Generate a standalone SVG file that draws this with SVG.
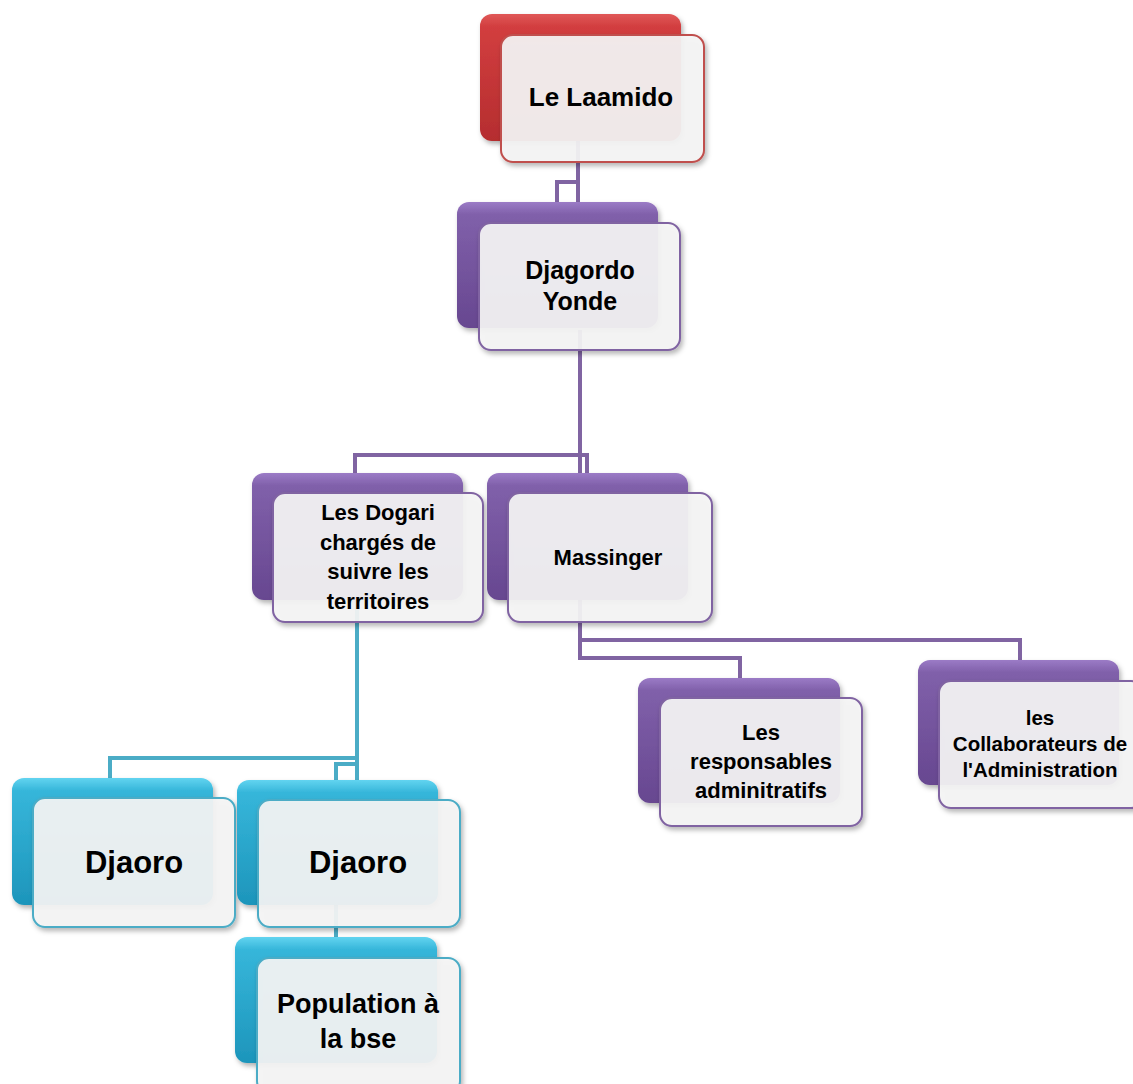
<svg xmlns="http://www.w3.org/2000/svg" width="1133" height="1084" viewBox="0 0 1133 1084">
<defs>
<linearGradient id="gRed" x1="0" y1="0" x2="0" y2="1">
<stop offset="0" stop-color="#e05858"/><stop offset="0.1" stop-color="#d23e3f"/><stop offset="1" stop-color="#b52d2f"/>
</linearGradient>
<linearGradient id="gPur" x1="0" y1="0" x2="0" y2="1">
<stop offset="0" stop-color="#9b7bc6"/><stop offset="0.1" stop-color="#8060aa"/><stop offset="1" stop-color="#674790"/>
</linearGradient>
<linearGradient id="gCy" x1="0" y1="0" x2="0" y2="1">
<stop offset="0" stop-color="#62d4f0"/><stop offset="0.1" stop-color="#36b6da"/><stop offset="1" stop-color="#1d95bb"/>
</linearGradient>
<filter id="sh" x="-10%" y="-10%" width="130%" height="130%">
<feDropShadow dx="2" dy="3" stdDeviation="2.5" flood-color="#000" flood-opacity="0.3"/>
</filter>
</defs>
<style>
.back{filter:url(#sh)}
.front{fill:#f5f5f5;fill-opacity:0.92;stroke-width:2;filter:url(#sh)}
.r .back{fill:url(#gRed)} .r .front{stroke:#c0504d}
.p .back{fill:url(#gPur)} .p .front{stroke:#8064a2}
.c .back{fill:url(#gCy)} .c .front{stroke:#4bacc6}
text{font-family:"Liberation Sans",Arial,sans-serif;font-weight:bold;fill:#000;text-anchor:middle}
.lp{fill:none;stroke:#8064a2;stroke-width:4}
.lc{fill:none;stroke:#4bacc6;stroke-width:4}
</style>
<rect width="1133" height="1084" fill="#fff"/>
<g id="connectors">
<path class="lp" d="M578 140 V205 M578 182 H557 V205"/>
<path class="lp" d="M580 330 V475 M580 455 H355 V475 M580 455 H587 V475"/>
<path class="lp" d="M580 600 V658 H740 V680 M580 640 H1020 V662"/>
<path class="lc" d="M357 600 V782 M357 758 H110 V780 M357 764 H336 V940"/>
</g>
<g id="n-laamido" class="r">
<rect class="back" x="480" y="14" width="201" height="127" rx="12"/>
<rect class="front" x="501" y="35" width="203" height="127" rx="12"/>
<text x="601" y="106" font-size="26">Le Laamido</text>
</g>
<g id="n-djagordo" class="p">
<rect class="back" x="457" y="202" width="201" height="126" rx="12"/>
<rect class="front" x="479" y="223" width="201" height="127" rx="12"/>
<text x="580" y="279" font-size="25">Djagordo</text>
<text x="580" y="310" font-size="25">Yonde</text>
</g>
<g id="n-dogari" class="p">
<rect class="back" x="252" y="473" width="211" height="127" rx="12"/>
<rect class="front" x="273" y="493" width="210" height="129" rx="12"/>
<text x="378" y="520" font-size="22">Les Dogari</text>
<text x="378" y="550" font-size="22">chargés de</text>
<text x="378" y="579" font-size="22">suivre les</text>
<text x="378" y="609" font-size="22">territoires</text>
</g>
<g id="n-massinger" class="p">
<rect class="back" x="487" y="473" width="201" height="127" rx="12"/>
<rect class="front" x="508" y="493" width="204" height="129" rx="12"/>
<text x="608" y="565" font-size="22">Massinger</text>
</g>
<g id="n-responsables" class="p">
<rect class="back" x="638" y="678" width="202" height="125" rx="12"/>
<rect class="front" x="660" y="698" width="202" height="128" rx="12"/>
<text x="761" y="740" font-size="22">Les</text>
<text x="761" y="769" font-size="22">responsables</text>
<text x="761" y="798" font-size="22">adminitratifs</text>
</g>
<g id="n-collaborateurs" class="p">
<rect class="back" x="918" y="660" width="201" height="125" rx="12"/>
<rect class="front" x="939" y="681" width="204" height="127" rx="12"/>
<text x="1040" y="725" font-size="20.5">les</text>
<text x="1040" y="751" font-size="20.5">Collaborateurs de</text>
<text x="1040" y="777" font-size="20.5">l'Administration</text>
</g>
<g id="n-djaoro1" class="c">
<rect class="back" x="12" y="778" width="201" height="127" rx="12"/>
<rect class="front" x="33" y="798" width="202" height="129" rx="12"/>
<text x="134" y="873" font-size="31">Djaoro</text>
</g>
<g id="n-djaoro2" class="c">
<rect class="back" x="237" y="780" width="201" height="125" rx="12"/>
<rect class="front" x="258" y="800" width="202" height="127" rx="12"/>
<text x="358" y="873" font-size="31">Djaoro</text>
</g>
<g id="n-population" class="c">
<rect class="back" x="235" y="937" width="202" height="126" rx="12"/>
<rect class="front" x="257" y="958" width="203" height="135" rx="12"/>
<text x="358" y="1013" font-size="27">Population à</text>
<text x="358" y="1048" font-size="27">la bse</text>
</g>
</svg>
